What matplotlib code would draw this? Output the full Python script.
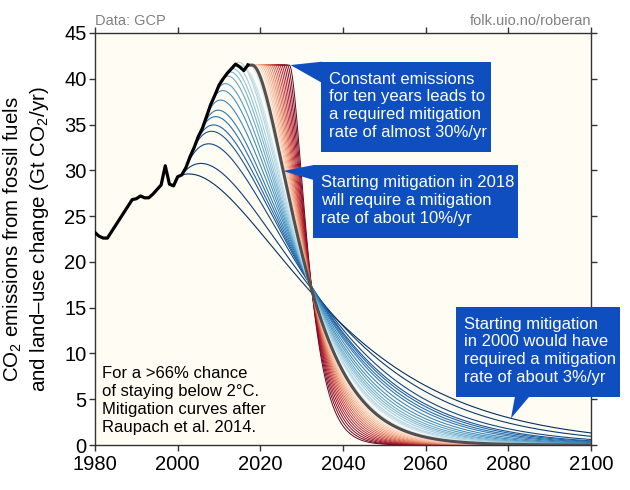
import numpy as np
import matplotlib
matplotlib.use('Agg')
import matplotlib.pyplot as plt
from matplotlib.patches import Polygon, Rectangle
from matplotlib.transforms import IdentityTransform

plt.rcParams['font.family'] = ['Liberation Sans', 'DejaVu Sans']
plt.rcParams['mathtext.fontset'] = 'custom'
plt.rcParams['mathtext.rm'] = 'Liberation Sans'
plt.rcParams['mathtext.it'] = 'Liberation Sans:italic'
plt.rcParams['mathtext.bf'] = 'Liberation Sans:bold'

# ---------------- data ----------------
hist_years = list(range(1980, 2018))
hist_emissions = [23.2, 22.8, 22.6, 22.6, 23.3, 24.0, 24.7, 25.4, 26.1, 26.8,
                  26.9, 27.2, 27.0, 27.0, 27.4, 27.9, 28.4, 30.5, 28.5, 28.3,
                  29.3, 29.5, 30.3, 31.5, 32.5, 33.7, 34.6, 35.9, 37.2, 38.2,
                  39.3, 40.0, 40.6, 41.1, 41.6, 41.3, 40.9, 41.5]

# mitigation start years and the growth rate at start (blue family)
blue_start_years = list(range(2000, 2018))
blue_growth_rates = [0.008, 0.020, 0.035, 0.038, 0.036, 0.034, 0.033, 0.032, 0.030,
                     0.028, 0.025, 0.022, 0.018, 0.015, 0.012, 0.009, 0.006, 0.004]
# constant emissions, then mitigation (red family)
red_start_years = [2018.5, 2019.0, 2019.5, 2020.0, 2020.5, 2021.0, 2021.5, 2022.0, 2022.5,
                   2023.0, 2023.5, 2024.0, 2024.5, 2025.0, 2025.5, 2026.0, 2026.5, 2027.0]
gray_start_year = 2018
quota_from_2000 = 1260.0   # Gt CO2, cumulative from 2000 (>66% chance of 2 degC)

x_ticks = [1980, 2000, 2020, 2040, 2060, 2080, 2100]
y_ticks = [0, 5, 10, 15, 20, 25, 30, 35, 40, 45]

# ---------------- helpers ----------------
H = dict(zip(hist_years, hist_emissions))
last_year = hist_years[-1]
last_val = hist_emissions[-1]


def used_before(s):
    total = sum(v for y, v in H.items() if 2000 <= y < s)
    if s > last_year + 1:
        total += last_val * (s - (last_year + 1))
    return total


def raupach(f0, r, s):
    q = quota_from_2000 - used_before(s)
    m = (f0 + np.sqrt(f0 ** 2 + q * f0 * r)) / q
    t = np.linspace(0, 2100 - s, 600)
    return s + t, f0 * (1 + (r + m) * t) * np.exp(-m * t)


cmap = plt.get_cmap('RdBu_r')

fig = plt.figure(figsize=(6.3, 4.9), dpi=100)
ax = fig.add_axes([95 / 630, 45 / 490, 496 / 630, 412 / 490])
ax.set_facecolor('#FFFDF3')

# blue curves
nb = len(blue_start_years)
curves = {}
for i, (s, r) in enumerate(zip(blue_start_years, blue_growth_rates)):
    x, y = raupach(H[s], r, s)
    curves[s] = (x, y)
    ax.plot(x, y, color=cmap(0.0 + 0.42 * i / (nb - 1)), lw=0.8, zorder=2)

# red curves (drawn darkest first)
nr = len(red_start_years)
for i in range(nr - 1, -1, -1):
    s = red_start_years[i]
    x, y = raupach(last_val, 0.0, s)
    xx = np.concatenate([[last_year], x])
    yy = np.concatenate([[last_val], y])
    ax.plot(xx, yy, color=cmap(0.58 + 0.42 * i / (nr - 1)), lw=0.7, zorder=2)

# gray (2018) curve
gx, gy = raupach(last_val, 0.0, gray_start_year)
gx = np.concatenate([[last_year], gx])
gy = np.concatenate([[last_val], gy])
ax.plot(gx, gy, color='#505050', lw=2.2, zorder=3)

# historical
ax.plot(hist_years, hist_emissions, color='black', lw=2.3, zorder=4,
        solid_joinstyle='round')

ax.set_xlim(1980, 2100)
ax.set_ylim(0, 45)
ax.set_xticks(x_ticks)
ax.set_yticks(y_ticks)
ax.tick_params(axis='both', which='both', direction='out', length=4, width=1,
               labelsize=14.5, color='#333333', top=True, right=True,
               labeltop=False, labelright=False)
ax.tick_params(axis='x', pad=3)
ax.tick_params(axis='y', pad=2)
for sp in ax.spines.values():
    sp.set_color('#333333')
    sp.set_linewidth(1)

ax.set_ylabel('CO$_2$ emissions from fossil fuels\nand land\u2013use change (Gt CO$_2$/yr)',
              fontsize=14.8, linespacing=1.25)
ax.yaxis.set_label_coords(-0.089, 0.5)

ax.text(0.0, 1.019, 'Data: GCP', transform=ax.transAxes, fontsize=10.5,
        color='#808080', ha='left', va='baseline')
ax.text(1.0, 1.019, 'folk.uio.no/roberan', transform=ax.transAxes, fontsize=10.5,
        color='#808080', ha='right', va='baseline')

ax.text(0.0135, 0.192, 'For a >66% chance\nof staying below 2\u00b0C.\nMitigation curves after\nRaupach et al. 2014.',
        transform=ax.transAxes, fontsize=12, ha='left', va='top', linespacing=1.25,
        color='black')

box_color = '#0E4EBE'
t1 = ax.text(0.4712, 0.906, 'Constant emissions\nfor ten years leads to\na required mitigation\nrate of almost 30%/yr',
             transform=ax.transAxes, fontsize=12, color='white', ha='left', va='top',
             linespacing=1.23, zorder=8, clip_on=False)
t2 = ax.text(0.4551, 0.6553, 'Starting mitigation in 2018\nwill require a mitigation\nrate of about 10%/yr',
             transform=ax.transAxes, fontsize=12, color='white', ha='left', va='top',
             linespacing=1.23, zorder=8, clip_on=False)
t3 = ax.text(0.744, 0.3114, 'Starting mitigation\nin 2000 would have\nrequired a mitigation\nrate of about 3%/yr',
             transform=ax.transAxes, fontsize=12, color='white', ha='left', va='top',
             linespacing=1.23, zorder=8, clip_on=False)

fig.canvas.draw()
renderer = fig.canvas.get_renderer()

# pointer tips on the curves
tip1 = ax.transData.transform((red_start_years[-1] + 0.3, last_val))
gi = np.argmin(np.abs(gx - 2025.5))
tip2 = ax.transData.transform((gx[gi], gy[gi]))
bx, by = curves[2000]
bi = np.argmin(np.abs(bx - 2080.6))
tip3 = ax.transData.transform((bx[bi], by[bi]))

boxes = []
for t in (t1, t2, t3):
    e = t.get_window_extent(renderer)
    x0, x1 = e.x0 - 8, e.x1 + 4
    y0, y1 = e.y0 - 12, e.y1 + 10
    boxes.append((x0, y0, x1, y1))
    ax.add_artist(Rectangle((x0, y0), x1 - x0, y1 - y0, fc=box_color, ec='none',
                            transform=IdentityTransform(), zorder=6, clip_on=False))

(a0, a1, a2, a3), (b0, b1, b2_, b3), (c0, c1, c2, c3) = boxes
polys = [
    [tip1, (a0 + 1, a3), (a0 + 1, a3 - 21)],
    [tip2, (b0 + 1, b3), (b0 + 1, b3 - 15)],
    [tip3, (c0 + 0.36 * (c2 - c0), c1 + 1), (c0 + 0.45 * (c2 - c0), c1 + 1)],
]
for p in polys:
    ax.add_artist(Polygon(p, closed=True, fc=box_color, ec='none',
                          transform=IdentityTransform(), zorder=6, clip_on=False))

fig.savefig('out.png', dpi=100, facecolor='white')
